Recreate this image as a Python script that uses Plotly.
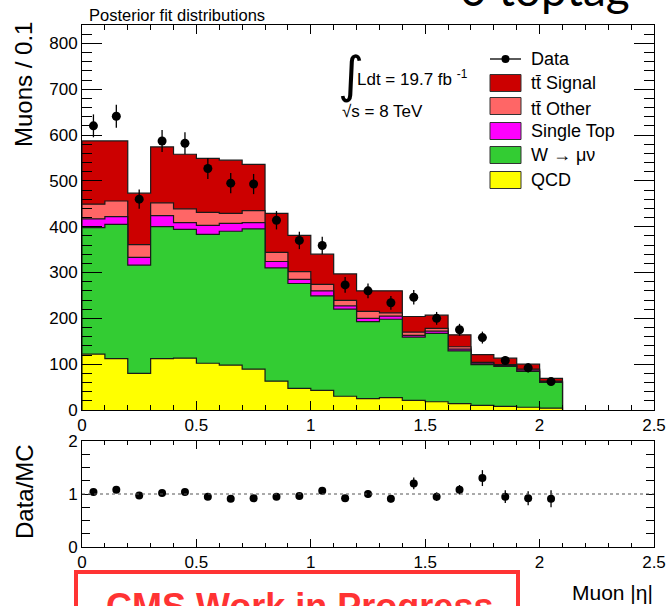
import numpy as np
import plotly.graph_objects as go

# ---------------- data ----------------
bin_edges = [round(0.1 * i, 1) for i in range(22)]          # muon |eta| bins 0..2.1
qcd        = [122,112,80,112,113,102,98,89,63,47,43,30,25,27,21,18,14,10,8,6,4]
wjets      = [276,293,236,288,281,281,292,306,247,229,206,190,168,171,138,149,115,89,87,78,56]
single_top = [19,17,17,24,15,20,17,14,14,9,11,7,7,7,4,5,4,3,2,3,2]
tt_other   = [32,34,28,28,30,28,22,26,20,17,14,12,15,7,7,6,5,2,2,2,1]
tt_signal  = [138,131,112,122,119,118,116,101,85,79,66,58,45,48,34,29,26,17,14,11,6]
data       = [620,641,460,587,582,527,495,493,414,370,359,273,260,234,246,200,175,158,108,92,62]
data_err   = [25,25,21,24,24,23,22,22,20,19,19,17,16,15,16,14,13,13,10,10,8]
ratio      = [1.04,1.08,0.97,1.02,1.04,0.95,0.91,0.92,0.95,0.96,1.06,0.92,1.0,0.91,1.2,0.95,1.08,1.3,0.95,0.92,0.91]
ratio_err  = [0.04,0.04,0.05,0.04,0.04,0.05,0.05,0.05,0.05,0.05,0.06,0.06,0.07,0.07,0.11,0.08,0.09,0.15,0.12,0.13,0.16]

comp_names  = ["QCD", "W \u2192 \u03bc\u03bd", "Single Top", "t\u0074\u0304 Other", "t\u0074\u0304 Signal"]
comp_values = [qcd, wjets, single_top, tt_other, tt_signal]
comp_colors = ["#FFFF00", "#33CC33", "#FF00FF", "#FF6666", "#CC0000"]

FONT = "Liberation Sans, Arial, Helvetica, sans-serif"
W, H = 666, 606
ML, MR, MT, MB = 82, 12, 25, 59
PW, PH = W - ML - MR, H - MT - MB

def px(x):   # pixel -> paper x
    return (x - ML) / PW

def py(y):   # pixel -> paper y
    return (H - MB - y) / PH

fig = go.Figure()

edges = np.array(bin_edges)
centers = (edges[:-1] + edges[1:]) / 2
cum = np.cumsum(np.array(comp_values), axis=0)

# draw stacked histograms, largest cumulative first
for k in range(len(comp_values) - 1, -1, -1):
    vals = cum[k]
    xs = [edges[0]] + list(edges) + [edges[-1]]
    ys = [0] + list(vals) + [vals[-1], 0]
    fig.add_trace(go.Scatter(
        x=xs, y=ys, mode="lines", line=dict(shape="hv", color="#1a1a1a", width=1.2),
        fill="tozeroy", fillcolor=comp_colors[k], showlegend=False, hoverinfo="skip",
        xaxis="x", yaxis="y"))

fig.add_trace(go.Scatter(
    x=centers, y=data, mode="markers",
    marker=dict(color="black", size=9),
    error_y=dict(type="data", array=data_err, width=0, thickness=1.3, color="black"),
    showlegend=False, xaxis="x", yaxis="y"))

fig.add_trace(go.Scatter(
    x=centers, y=ratio, mode="markers",
    marker=dict(color="black", size=8),
    error_y=dict(type="data", array=ratio_err, width=0, thickness=1.3, color="black"),
    showlegend=False, xaxis="x2", yaxis="y2"))

main_dom = [py(410), 1.0]
ratio_dom = [0.0, py(441)]

axis_common = dict(showline=True, linecolor="black", linewidth=1, mirror="ticks",
                   ticks="inside", tickcolor="black", showgrid=False, zeroline=False,
                   automargin=False,
                   tickfont=dict(family=FONT, size=17, color="black"))

fig.update_layout(
    template="none",
    width=W, height=H, autosize=False,
    margin=dict(l=ML, r=MR, t=MT, b=MB, pad=0, autoexpand=False),
    paper_bgcolor="white", plot_bgcolor="white",
    font=dict(family=FONT, color="black"),
    xaxis=dict(**axis_common, domain=[0, 1], range=[0, 2.5], anchor="y",
               dtick=0.5, tick0=0, ticklen=9,
               minor=dict(dtick=0.1, ticklen=5, ticks="inside", tickcolor="black")),
    yaxis=dict(**axis_common, domain=main_dom, range=[0, 840], anchor="x",
               dtick=100, tick0=0, ticklen=20,
               minor=dict(dtick=20, ticklen=10, ticks="inside", tickcolor="black")),
    xaxis2=dict(**axis_common, domain=[0, 1], range=[0, 2.5], anchor="y2",
                dtick=0.5, tick0=0, ticklen=8,
                minor=dict(dtick=0.1, ticklen=4, ticks="inside", tickcolor="black")),
    yaxis2=dict(**axis_common, domain=ratio_dom, range=[0, 2], anchor="x2",
                dtick=1, tick0=0, ticklen=8,
                minor=dict(dtick=0.25, ticklen=8, ticks="inside", tickcolor="black")),
)

shapes = []
annotations = []

# dotted unity line in ratio panel
shapes.append(dict(type="line", xref="x2", yref="y2", x0=0, x1=2.5, y0=1, y1=1,
                   line=dict(color="#555555", width=1, dash="dot")))

# ---- legend (drawn manually, ROOT style) ----
leg_x0, leg_x1, text_x = 490, 521, 529
# Data entry
shapes.append(dict(type="line", xref="paper", yref="paper",
                   x0=px(leg_x0), x1=px(leg_x1), y0=py(59), y1=py(59),
                   line=dict(color="black", width=1.3)))
shapes.append(dict(type="circle", xref="paper", yref="paper",
                   x0=px(505.5 - 4), x1=px(505.5 + 4), y0=py(59 + 4), y1=py(59 - 4),
                   fillcolor="black", line=dict(color="black", width=0)))
annotations.append(dict(xref="paper", yref="paper", x=px(text_x), y=py(59),
                        xanchor="left", yanchor="middle", showarrow=False, text="Data",
                        font=dict(family=FONT, size=18, color="black")))
leg_order = [4, 3, 2, 1, 0]
swatch_centers = [83, 106, 131, 155, 180]
text_centers = [83, 109, 131, 155, 180]
for k, yc, yt in zip(leg_order, swatch_centers, text_centers):
    shapes.append(dict(type="rect", xref="paper", yref="paper",
                       x0=px(leg_x0), x1=px(leg_x1), y0=py(yc + 8.5), y1=py(yc - 8.5),
                       fillcolor=comp_colors[k], line=dict(color="#333333", width=1)))
    annotations.append(dict(xref="paper", yref="paper", x=px(text_x), y=py(yt),
                            xanchor="left", yanchor="middle", showarrow=False,
                            text=comp_names[k],
                            font=dict(family=FONT, size=18, color="black")))

# ---- luminosity text ----
annotations.append(dict(xref="paper", yref="paper", x=px(336), y=py(75),
                        xanchor="left", yanchor="middle", showarrow=False, text="\u222b",
                        font=dict(family="DejaVu Sans, sans-serif", size=50, color="black")))
annotations.append(dict(xref="paper", yref="paper", x=px(355), y=py(78),
                        xanchor="left", yanchor="middle", showarrow=False,
                        text="Ldt = 19.7 fb <sup>-1</sup>",
                        font=dict(family=FONT, size=17, color="black")))
annotations.append(dict(xref="paper", yref="paper", x=px(340), y=py(112),
                        xanchor="left", yanchor="middle", showarrow=False,
                        text="\u221as = 8 TeV",
                        font=dict(family=FONT, size=17, color="black")))

# ---- titles ----
annotations.append(dict(xref="paper", yref="paper", x=px(87), y=py(15),
                        xanchor="left", yanchor="middle", showarrow=False,
                        text="Posterior fit distributions",
                        font=dict(family=FONT, size=16.5, color="black")))
annotations.append(dict(xref="paper", yref="paper", x=px(458), y=py(18),
                        xanchor="left", yanchor="bottom", showarrow=False,
                        text="0 toptag",
                        font=dict(family="Lato, sans-serif", size=46, color="black")))
annotations.append(dict(xref="paper", yref="paper", x=px(24), y=py(85),
                        xanchor="center", yanchor="middle", showarrow=False,
                        text="Muons / 0.1", textangle=-90,
                        font=dict(family=FONT, size=24, color="black")))
annotations.append(dict(xref="paper", yref="paper", x=px(24), y=py(492),
                        xanchor="center", yanchor="middle", showarrow=False,
                        text="Data/MC", textangle=-90,
                        font=dict(family=FONT, size=24, color="black")))
annotations.append(dict(xref="paper", yref="paper", x=px(655), y=py(592),
                        xanchor="right", yanchor="middle", showarrow=False,
                        text="Muon |\u03b7|",
                        font=dict(family=FONT, size=21, color="black")))

# ---- CMS work in progress box ----
shapes.append(dict(type="rect", xref="paper", yref="paper",
                   x0=px(76), x1=px(518), y0=py(640), y1=py(572),
                   line=dict(color="#FF3333", width=4), fillcolor="rgba(0,0,0,0)"))
annotations.append(dict(xref="paper", yref="paper", x=px(104), y=py(584),
                        xanchor="left", yanchor="top", showarrow=False,
                        text="<b>CMS Work in Progress</b>",
                        font=dict(family=FONT, size=36, color="#FF3333")))

fig.update_layout(shapes=shapes, annotations=annotations)
fig.write_html("out.html")
